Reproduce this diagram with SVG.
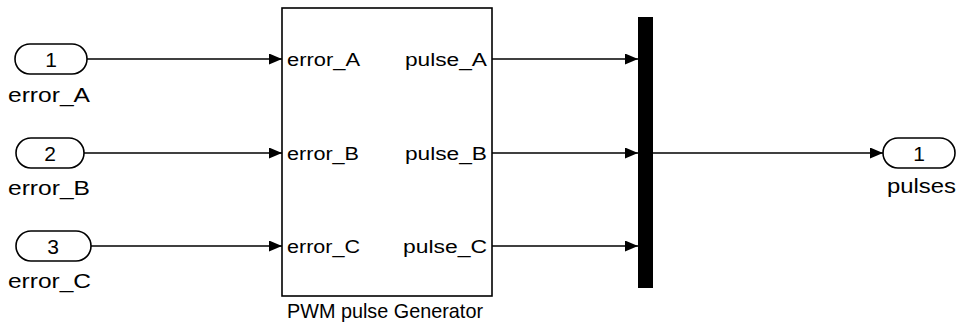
<svg xmlns="http://www.w3.org/2000/svg" width="957" height="329" viewBox="0 0 957 329">
<style>
  text { font-family: "Liberation Sans", Arial, sans-serif; fill: #000; }
  .port { fill: #fff; stroke: #000; stroke-width: 1.6; }
  .num { font-size: 21px; text-anchor: middle; }
  .lbl { font-size: 21px; }
  .in { font-size: 18px; }
  .wire { stroke: #000; stroke-width: 1.4; fill: none; marker-end: url(#arr); }
</style>
<defs>
  <marker id="arr" markerWidth="13" markerHeight="11" refX="13" refY="5.5" orient="auto" markerUnits="userSpaceOnUse">
    <path d="M0,0 L13,5.5 L0,11 Z" fill="#000"/>
  </marker>
</defs>
<rect width="957" height="329" fill="#fff"/>
<g id="connectors">
  <line class="wire" x1="87" y1="59" x2="282" y2="59"/>
  <line class="wire" x1="84" y1="153" x2="282" y2="153"/>
  <line class="wire" x1="91" y1="246" x2="282" y2="246"/>
  <line class="wire" x1="492" y1="59" x2="638" y2="59"/>
  <line class="wire" x1="492" y1="153" x2="638" y2="153"/>
  <line class="wire" x1="492" y1="246" x2="638" y2="246"/>
  <line class="wire" x1="653" y1="153" x2="883" y2="153"/>
</g>
<g id="in1">
  <rect class="port" x="15" y="44" width="72" height="30" rx="15"/>
  <text class="num" x="51" y="66.5">1</text>
  <text class="lbl" x="8" y="102" textLength="82" lengthAdjust="spacingAndGlyphs">error_A</text>
</g>
<g id="in2">
  <rect class="port" x="16" y="138" width="68" height="30" rx="15"/>
  <text class="num" x="50" y="160.5">2</text>
  <text class="lbl" x="8" y="195" textLength="82" lengthAdjust="spacingAndGlyphs">error_B</text>
</g>
<g id="in3">
  <rect class="port" x="16" y="231" width="75" height="30" rx="15"/>
  <text class="num" x="53" y="253.5">3</text>
  <text class="lbl" x="8" y="288" textLength="83" lengthAdjust="spacingAndGlyphs">error_C</text>
</g>
<g id="pwm">
  <rect x="282" y="8" width="210" height="288" fill="#fff" stroke="#000" stroke-width="1.6"/>
  <text class="in" x="287" y="66" textLength="73" lengthAdjust="spacingAndGlyphs">error_A</text>
  <text class="in" x="287" y="160" textLength="72" lengthAdjust="spacingAndGlyphs">error_B</text>
  <text class="in" x="287" y="253" textLength="73" lengthAdjust="spacingAndGlyphs">error_C</text>
  <text class="in" x="405" y="66" textLength="82" lengthAdjust="spacingAndGlyphs">pulse_A</text>
  <text class="in" x="405" y="160" textLength="82" lengthAdjust="spacingAndGlyphs">pulse_B</text>
  <text class="in" x="403" y="253" textLength="84" lengthAdjust="spacingAndGlyphs">pulse_C</text>
  <text class="lbl" x="287" y="318" textLength="196" lengthAdjust="spacingAndGlyphs">PWM pulse Generator</text>
</g>
<g id="mux">
  <rect x="638" y="17" width="15" height="271" fill="#000"/>
</g>
<g id="out1">
  <rect class="port" x="883" y="138" width="72" height="30" rx="15"/>
  <text class="num" x="919" y="160.5">1</text>
  <text class="lbl" x="887" y="193" textLength="69" lengthAdjust="spacingAndGlyphs">pulses</text>
</g>
</svg>
